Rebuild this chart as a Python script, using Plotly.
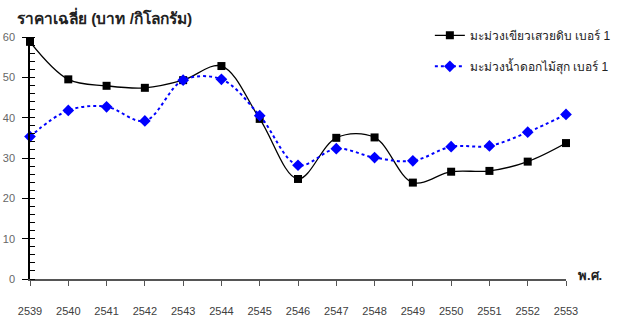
import plotly.graph_objects as go

years = [2539, 2540, 2541, 2542, 2543, 2544, 2545, 2546, 2547, 2548, 2549, 2550, 2551, 2552, 2553]
green_raw = [58.8, 49.5, 47.9, 47.4, 49.3, 52.8, 39.7, 24.8, 35.0, 35.1, 23.9, 26.6, 26.8, 29.1, 33.7]
ripe_namdok = [35.3, 41.8, 42.7, 39.2, 49.3, 49.5, 40.5, 28.2, 32.3, 30.1, 29.3, 32.8, 33.0, 36.4, 40.8]
series_names = ["มะม่วงเขียวเสวยดิบ เบอร์ 1", "มะม่วงน้ำดอกไม้สุก เบอร์ 1"]
y_ticks = [0, 10, 20, 30, 40, 50, 60]

FONT = "Liberation Sans, Arial, sans-serif"

fig = go.Figure()
fig.add_trace(go.Scatter(
    x=years, y=green_raw, name=series_names[0], mode="lines+markers",
    line=dict(color="black", width=1.3, shape="spline", smoothing=1),
    marker=dict(symbol="square", size=8, color="black"),
    cliponaxis=False, legendgroup="a"))
fig.add_trace(go.Scatter(
    x=years, y=ripe_namdok, name=series_names[1], mode="lines+markers",
    line=dict(color="#0000FF", width=2, dash="dot", shape="spline", smoothing=1),
    marker=dict(symbol="diamond", size=9, color="#0000FF"),
    cliponaxis=False, legendgroup="b"))

fig.update_layout(
    width=617, height=318,
    margin=dict(l=30, r=51, t=37, b=39, autoexpand=False),
    paper_bgcolor="white", plot_bgcolor="white",
    font=dict(family=FONT, size=11, color="#333333"),
    showlegend=True,
    legend=dict(x=0.746, y=1.067, xanchor="left", yanchor="top",
                font=dict(size=12, color="#222222"),
                tracegroupgap=12, traceorder="grouped",
                bgcolor="rgba(0,0,0,0)"),
    xaxis=dict(range=[2539, 2553], tickmode="array", tickvals=years,
               ticktext=[str(y) for y in years], automargin=False,
               showgrid=False, zeroline=False, showline=True,
               linecolor="#555555", linewidth=1.5,
               ticks="outside", ticklen=5, tickcolor="#555555",
               ticklabelstandoff=16,
               tickfont=dict(size=11, color="#404040")),
    yaxis=dict(range=[0, 60], tickmode="array", tickvals=y_ticks, automargin=False,
               showgrid=False, zeroline=False, showline=True,
               linecolor="black", linewidth=1.5,
               ticks="outside", ticklen=6, tickcolor="black",
               ticklabelstandoff=5,
               tickfont=dict(size=11, color="#666666"),
               minor=dict(dtick=2, ticks="inside", ticklen=5, tickcolor="black")),
    annotations=[
        dict(text="<b>ราคาเฉลี่ย (บาท /กิโลกรัม)</b>", xref="paper", yref="paper",
             x=-0.028, y=1.0, xanchor="left", yanchor="bottom", yshift=8,
             showarrow=False, font=dict(size=15.5, color="#222222", family=FONT)),
        dict(text="<b>พ.ศ.</b>", xref="paper", yref="paper",
             x=1.0, y=0.0, xanchor="left", yanchor="middle", xshift=10, yshift=4,
             showarrow=False, font=dict(size=13, color="#222222", family=FONT)),
    ],
)

fig.write_html("out.html", config={"displayModeBar": False},
               post_script="document.body.style.margin='0px';")
